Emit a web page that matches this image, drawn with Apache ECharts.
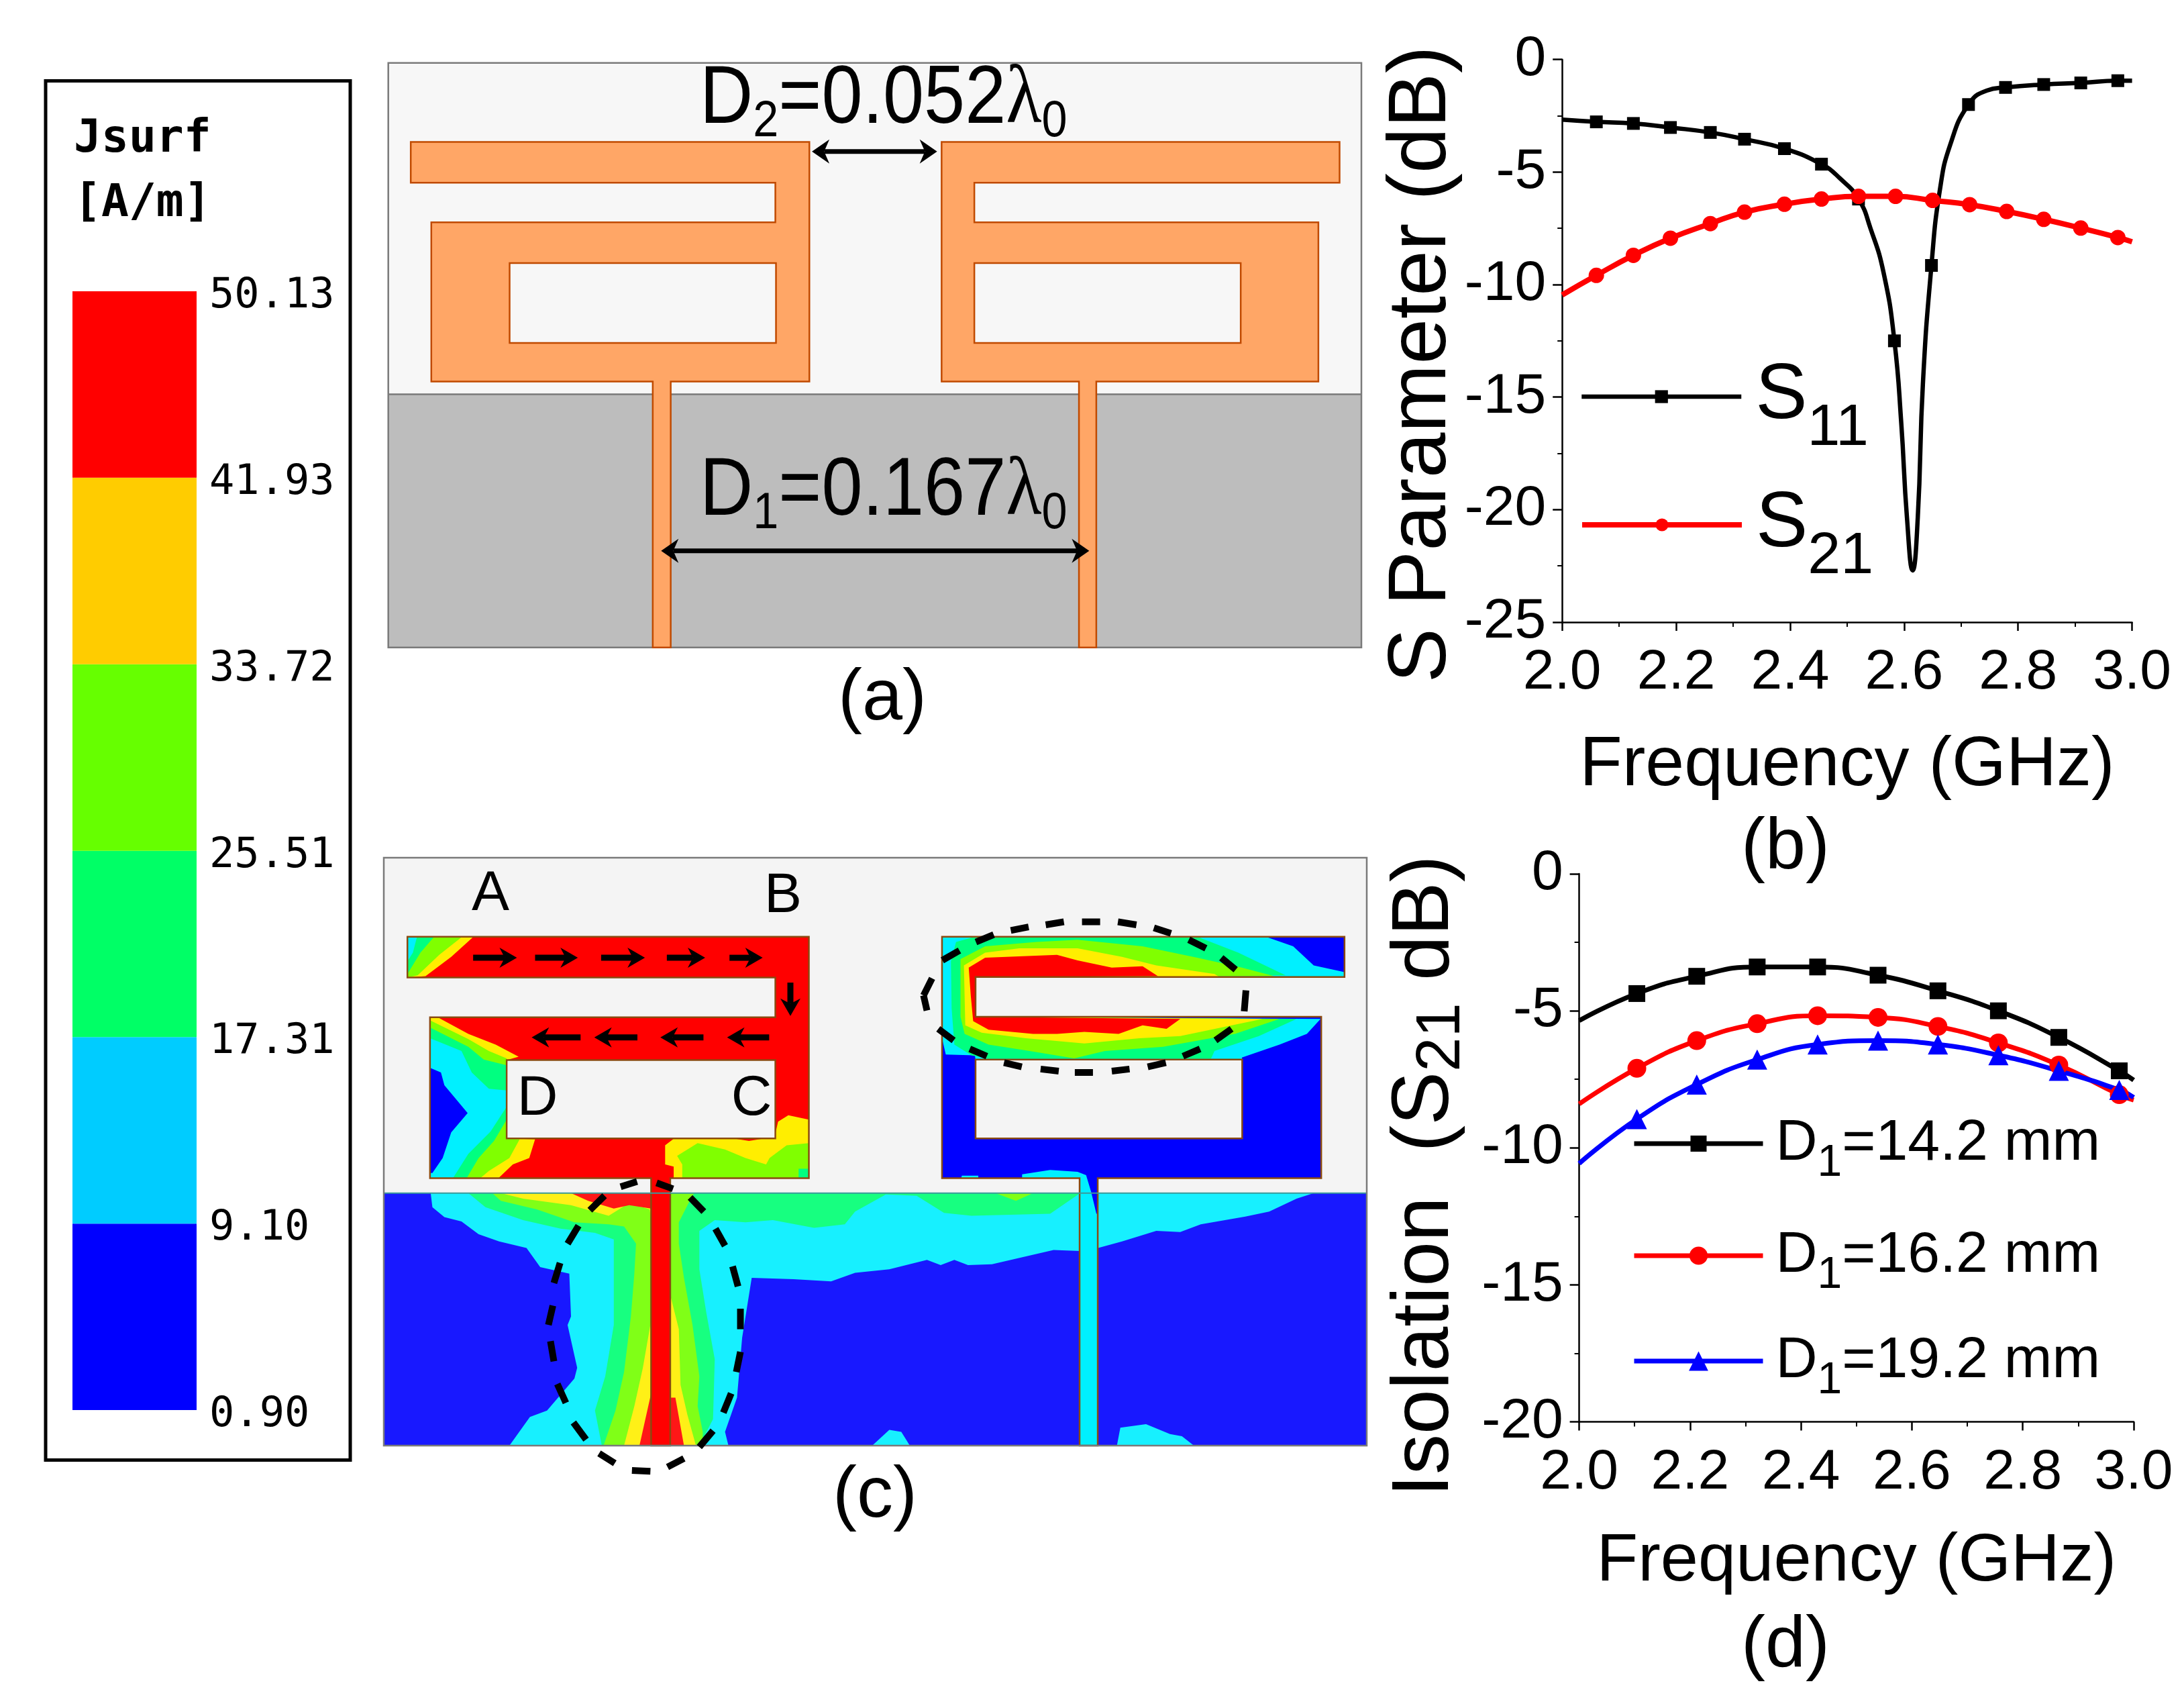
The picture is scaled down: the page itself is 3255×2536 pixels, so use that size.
<!DOCTYPE html>
<html><head><meta charset="utf-8">
<style>html,body{margin:0;padding:0;background:#fff}#c{width:3255px;height:2536px}</style>
<script src="https://cdn.jsdelivr.net/npm/echarts@6/dist/echarts.min.js"></script>
</head><body><div id="c"></div>
<script>
// ---------- panel (b) ----------
const s11Freq=[2.0,2.06,2.125,2.19,2.26,2.32,2.39,2.455,2.487,2.52,2.541,2.564,2.583,2.595,2.605,2.615,2.624,2.633,2.648,2.663,2.681,2.713,2.745,2.778,2.845,2.91,2.975,3.0];
const s11Db=[-2.67,-2.77,-2.84,-3.02,-3.24,-3.54,-3.96,-4.65,-5.27,-6.2,-7.5,-9.47,-12.5,-16.15,-20.35,-22.7,-20.35,-14.4,-9.15,-5.76,-3.78,-2.0,-1.38,-1.24,-1.11,-1.04,-0.94,-0.94];
const s11Markers=[1,2,3,4,5,6,7,9,12,18,21,23,24,25,26];
const s21Freq=[2.0,2.06,2.125,2.19,2.26,2.32,2.39,2.455,2.52,2.585,2.65,2.715,2.78,2.845,2.91,2.975,3.0];
const s21Db=[-10.46,-9.59,-8.7,-7.94,-7.29,-6.78,-6.43,-6.2,-6.08,-6.08,-6.26,-6.45,-6.75,-7.1,-7.49,-7.91,-8.1];
// ---------- panel (d) ----------
const isoFreq=[2.0,2.104,2.212,2.321,2.43,2.539,2.647,2.756,2.865,2.974,3.0];
const iso142=[-5.36,-4.37,-3.74,-3.40,-3.40,-3.70,-4.27,-5.0,-5.97,-7.19,-7.53];
const iso162=[-8.4,-7.1,-6.09,-5.47,-5.18,-5.24,-5.57,-6.17,-6.98,-8.06,-8.26];
const iso192=[-10.57,-8.95,-7.69,-6.78,-6.23,-6.09,-6.23,-6.62,-7.19,-7.89,-8.16];
// ---------- colour scale ----------
const jsurfLevels=[0.90,9.10,17.31,25.51,33.72,41.93,50.13];
const jsurfColors=['#0000ff','#00ccff','#00ff66','#66ff00','#ffcc00','#ff0000'];

// ---------- panel (a) geometry, in the panel's own units ----------
const ORANGE='#ffa666',EDGE_A='#c04a00';
const aSky=[[30,50],[1546,50],[1546,780],[30,780]];
const aGround=[[30,780],[1546,780],[1546,1338],[30,1338]];
const aLeft=[[65,224],[686,224],[686,752],[470,752],[470,1338],[442,1338],[442,752],[97,752],[97,401],[633,401],[633,314],[65,314]];
const aLeftHole=[[219,491],[634,491],[634,667],[219,667]];
const aRight=[[892,224],[1512,224],[1512,314],[943,314],[943,401],[1479,401],[1479,752],[1133,752],[1133,1338],[1106,1338],[1106,752],[892,752]];
const aRightHole=[[943,491],[1358,491],[1358,667],[943,667]];
const aArrows=[[690,245,885,245],[455,1125,1122,1125]];

// ---------- panel (c) geometry ----------
const R=p=>p.map(([x,y])=>[x+1470,y]);
const cSky=[[43,28],[2915,28],[2915,812],[43,812]];
const cGround=[[43,812],[2915,812],[2915,1402],[43,1402]];
const gCyan=[[180,812],[185,845],[220,868],[270,878],[320,908],[380,925],[460,940],[500,985],[585,1000],[590,1100],[580,1120],[608,1220],[600,1245],[520,1320],[470,1335],[410,1402],[1050,1402],[1040,1370],[1075,1290],[1090,1150],[1118,1010],[1240,1013],[1350,1018],[1420,998],[1520,990],[1630,968],[1670,980],[1710,968],[1750,980],[1820,978],[2000,945],[2076,947],[2130,940],[2200,925],[2300,900],[2370,903],[2430,885],[2560,867],[2630,855],[2710,825],[2760,812]];
const gCyanIsle1=[[1470,1402],[1520,1365],[1555,1370],[1580,1402]];
const gCyanIsle2=R([[715,1402],[725,1360],[800,1352],[870,1375],[905,1380],[940,1402]]);
const gGreen=[[290,812],[340,845],[450,875],[560,895],[660,905],[715,920],[715,1120],[690,1240],[660,1320],[680,1402],[965,1402],[1005,1340],[1010,1200],[985,1090],[965,990],[965,900],[1010,875],[1100,880],[1180,875],[1300,893],[1390,885],[1420,855],[1510,815],[1600,818],[1680,858],[1760,865],[1990,860],[2072,815],[2072,812]];
const gLime=[[360,812],[385,830],[490,850],[600,880],[700,885],[745,890],[780,930],[775,1000],[765,1100],[745,1230],[720,1320],[685,1402],[975,1402],[975,1370],[960,1310],[965,1240],[945,1120],[920,1010],[905,930],[905,880],[940,825],[950,812]];
const gLimeIsle=R([[360,812],[420,830],[470,812]]);
const gYellow=[[385,812],[450,825],[590,840],[700,865],[760,835],[820,850],[824,875],[824,1110],[800,1220],[775,1310],[745,1402],[955,1402],[930,1330],[910,1260],[905,1130],[880,1050],[880,812]];
const gRed=[[590,812],[640,830],[715,848],[760,840],[824,848],[824,812]];
const gRedLow=[[824,1280],[790,1402],[920,1402],[895,1290],[880,1290]];

const cLeft=[[112,213],[1285,213],[1285,777],[880,777],[880,1402],[824,1402],[824,777],[178,777],[178,401],[1187,401],[1187,308],[112,308]];
const cLeftHole=[[402,501],[1187,501],[1187,684],[402,684]];
const lTipYellow=[[112,213],[305,213],[240,260],[165,305],[112,308]];
const lTipLime=[[112,213],[272,213],[205,255],[142,303],[112,308]];
const lTipGreen=[[112,213],[190,213],[150,250],[112,300]];
const lTipCyan=[[112,213],[140,213],[128,250],[112,270]];
const lCornerYellow=[[178,401],[205,403],[290,440],[370,465],[437,493],[402,501],[402,684],[485,686],[468,730],[420,745],[378,777],[178,777]];
const lCornerLime=[[178,408],[290,452],[350,480],[402,497],[402,684],[440,686],[410,730],[350,760],[325,777],[178,777]];
const lCornerGreen=[[178,425],[290,470],[335,500],[402,513],[402,640],[365,690],[320,730],[285,777],[178,777]];
const lCornerCyan=[[178,450],[270,480],[300,530],[350,568],[402,572],[402,610],[355,668],[290,720],[245,777],[178,777]];
const lCornerBlue=[[180,520],[210,530],[220,560],[288,625],[240,670],[215,730],[185,765],[180,765]];
const lBlockYellow=[[1285,640],[1225,630],[1195,645],[1185,680],[1110,690],[1070,685],[890,685],[865,700],[865,745],[890,750],[890,777],[1285,777]];
const lBlockLime=[[1285,695],[1220,700],[1170,730],[1160,745],[1100,730],[1040,710],[960,695],[900,725],[915,745],[915,777],[1285,777]];
const lBlockGreen=[[1255,755],[1285,755],[1285,777],[1255,777]];

const cRight=R([[204,213],[1380,213],[1380,307],[302,307],[302,400],[1312,400],[1312,777],[659,777],[659,1402],[606,1402],[606,777],[204,777]]);
const cRightHole=R([[302,500],[1081,500],[1081,684],[302,684]]);
const rSlot=R([[302,307],[1380,307],[1380,400],[302,400]]);
const lSlot=[[112,308],[1187,308],[1187,401],[112,401]];
const rFeed=R([[606,770],[625,770],[640,810],[655,860],[659,860],[659,1402],[606,1402]]);
const rStub1=R([[260,777],[262,771],[310,771],[310,777]]);
const rStub2=R([[438,777],[438,768],[520,758],[600,762],[625,770],[606,777]]);
const rCyan=R([[204,213],[1150,213],[1230,235],[1290,280],[1378,295],[1380,307],[302,307],[302,400],[1310,405],[1270,440],[1190,465],[1080,495],[1081,500],[302,500],[300,490],[215,488],[204,450]]);
const rGreen=R([[230,270],[245,225],[300,213],[950,213],[1070,250],[1208,303],[302,307],[302,400],[1240,405],[1130,445],[1000,480],[990,498],[340,498],[290,490],[240,465],[232,380]]);
const rLime=R([[258,265],[330,235],[480,225],[600,220],[790,235],[950,262],[1080,285],[1175,305],[302,307],[302,400],[1190,405],[1060,440],[850,470],[680,480],[590,497],[460,480],[340,465],[270,440],[258,400]]);
const rYellow=R([[268,280],[330,250],[430,240],[600,240],[730,260],[830,280],[1000,300],[1015,307],[302,307],[302,400],[1140,405],[1020,425],[900,445],[780,450],[620,462],[450,450],[320,437],[272,420]]);
const rRed=R([[282,285],[330,262],[540,255],[600,268],[700,285],[790,282],[835,305],[302,307],[302,400],[900,405],[860,428],[790,420],[720,440],[620,435],[540,440],[470,440],[340,430],[295,410],[288,350]]);

const cArrows=[[304,262,432,262],[485,262,610,262],[678,262,806,262],[870,262,982,262],[1053,262,1150,262],[1231,320,1231,398],[618,448,475,448],[784,448,658,448],[977,448,851,448],[1169,448,1046,448]];
const leftDashes=[[735,797,783,785],[645,852,688,818],[580,930,612,888],[540,1022,558,975],[524,1120,537,1075],[530,1158,540,1205],[550,1258,575,1302],[597,1348,634,1388],[672,1420,718,1443],[768,1460,822,1462],[872,1452,920,1432],[965,1405,1005,1367],[1035,1325,1058,1280],[1073,1230,1085,1183],[1085,1130,1085,1082],[1078,1030,1062,983],[1040,935,1012,895],[978,855,938,822],[888,802,840,788]];
const rightDashes=[[1087,387,1092,338],[1062,290,1020,262],[975,240,925,220],[873,205,823,192],[772,185,718,178],[666,178,613,178],[560,178,507,185],[457,190,405,198],[355,208,303,225],[255,245,205,268],[175,310,150,350],[150,350,160,385],[193,428,238,455],[285,475,335,492],[385,507,437,517],[492,522,545,527],[592,530,645,530],[700,527,752,522],[805,517,858,507],[908,492,958,475],[1003,455,1050,428]].map(d=>[d[0]+1470,d[1],d[2]+1470,d[3]]);

const SKY='#f4f4f4',EDGE='#8a4a10';
const aShapes=[
 {pts:aSky,fill:'#f7f7f7'},{pts:aGround,fill:'#bdbdbd'},
 {pts:[[30,50],[1546,50],[1546,1338],[30,1338]],fill:'none',stroke:'#7a7a7a',lw:2.5},
 {pts:[[30,780],[1546,780]],fill:'none',stroke:'#7a7a7a',lw:2.5},
 {pts:aLeft,fill:ORANGE,stroke:EDGE_A,lw:2.5},{pts:aLeftHole,fill:'#f7f7f7',stroke:EDGE_A,lw:2.5},
 {pts:aRight,fill:ORANGE,stroke:EDGE_A,lw:2.5},{pts:aRightHole,fill:'#f7f7f7',stroke:EDGE_A,lw:2.5}
];
const cShapes=[
 {pts:cSky,fill:SKY},{pts:cGround,fill:'#1818ff'},
 {pts:gCyan,fill:'#17f0ff'},{pts:gCyanIsle1,fill:'#17f0ff'},{pts:gCyanIsle2,fill:'#17f0ff'},
 {pts:gGreen,fill:'#17ff80'},{pts:gLime,fill:'#80ff17'},{pts:gLimeIsle,fill:'#80ff17'},
 {pts:gYellow,fill:'#fff017'},{pts:gRed,fill:'#ff1717'},{pts:gRedLow,fill:'#ff1717'},
 {pts:cLeft,fill:'#ff0000'},
 {pts:lTipYellow,fill:'#ffee00'},{pts:lTipLime,fill:'#80ff00'},{pts:lTipGreen,fill:'#00ff80'},{pts:lTipCyan,fill:'#00f0ff'},
 {pts:lCornerYellow,fill:'#ffee00'},{pts:lCornerLime,fill:'#80ff00'},{pts:lCornerGreen,fill:'#00ff80'},{pts:lCornerCyan,fill:'#00f0ff'},{pts:lCornerBlue,fill:'#0000ff'},
 {pts:lBlockYellow,fill:'#ffee00'},{pts:lBlockLime,fill:'#80ff00'},{pts:lBlockGreen,fill:'#00ff80'},
 {pts:lSlot,fill:SKY},{pts:cLeftHole,fill:SKY,stroke:EDGE,lw:2.5},
 {pts:cRight,fill:'#0000ff'},{pts:rFeed,fill:'#00f0ff'},{pts:rStub1,fill:'#00f0ff'},{pts:rStub2,fill:'#00f0ff'},
 {pts:rCyan,fill:'#00f0ff'},{pts:rGreen,fill:'#00ff80'},{pts:rLime,fill:'#80ff00'},{pts:rYellow,fill:'#ffee00'},{pts:rRed,fill:'#ff0000'},
 {pts:rSlot,fill:SKY},{pts:cRightHole,fill:SKY,stroke:EDGE,lw:2.5},
 {pts:cLeft,fill:'none',stroke:EDGE,lw:2.5},{pts:cRight,fill:'none',stroke:EDGE,lw:2.5},
 {pts:[[43,812],[2915,812]],fill:'none',stroke:'#3a9a9a',lw:2},
 {pts:[[43,28],[2915,28],[2915,1402],[43,1402]],fill:'none',stroke:'#7a7a7a',lw:2.5}
];

// ---------- drawing helpers ----------
const FONT='Liberation Sans';
function shapeSeries(gi,shapes){return{type:'custom',xAxisIndex:gi,yAxisIndex:gi,clip:false,silent:true,z:1,
 data:shapes.map(s=>s.pts[0]),
 renderItem:(p,api)=>{const s=shapes[p.dataIndex],pts=s.pts.map(q=>api.coord(q));
  const style={fill:s.fill==='none'?null:s.fill,stroke:s.stroke||null,lineWidth:s.lw||0};
  return pts.length===2?{type:'line',shape:{x1:pts[0][0],y1:pts[0][1],x2:pts[1][0],y2:pts[1][1]},style:{stroke:s.stroke,lineWidth:s.lw}}:{type:'polygon',shape:{points:pts},style};}};}
function arrowSeries(gi,rows,both,width,hl,hw){return{type:'custom',xAxisIndex:gi,yAxisIndex:gi,clip:false,silent:true,z:3,
 data:rows,
 renderItem:(p,api)=>{const a=api.coord([api.value(0),api.value(1)]),b=api.coord([api.value(2),api.value(3)]);
  const L=Math.hypot(b[0]-a[0],b[1]-a[1]),ux=(b[0]-a[0])/L,uy=(b[1]-a[1])/L,nx=-uy,ny=ux;
  const head=(t,dx,dy)=>({type:'polygon',shape:{points:[t,[t[0]-dx*hl+nx*hw,t[1]-dy*hl+ny*hw],[t[0]-dx*hl*0.7,t[1]-dy*hl*0.7],[t[0]-dx*hl-nx*hw,t[1]-dy*hl-ny*hw]]},style:{fill:'#000'}});
  const kids=[{type:'line',shape:{x1:a[0]+(both?ux*hl*0.7:0),y1:a[1]+(both?uy*hl*0.7:0),x2:b[0]-ux*hl*0.7,y2:b[1]-uy*hl*0.7},style:{stroke:'#000',lineWidth:width}},head(b,ux,uy)];
  if(both)kids.push(head(a,-ux,-uy));
  return{type:'group',children:kids};}};}
function dashSeries(gi,rows){return{type:'custom',xAxisIndex:gi,yAxisIndex:gi,clip:false,silent:true,z:4,
 data:rows,
 renderItem:(p,api)=>{const a=api.coord([api.value(0),api.value(1)]),b=api.coord([api.value(2),api.value(3)]);
  return{type:'line',shape:{x1:a[0],y1:a[1],x2:b[0],y2:b[1]},style:{stroke:'#000',lineWidth:10}};}};}

function lineSeries(name,gi,xs,ys,color,width,symbol,size,markerIdx){
 return{name,type:'line',xAxisIndex:gi,yAxisIndex:gi,symbol,symbolSize:size,showSymbol:true,showAllSymbol:true,smooth:0.5,z:5,
  lineStyle:{color,width},itemStyle:{color},
  data:xs.map((x,i)=>markerIdx.includes(i)?{value:[x,ys[i]]}:{value:[x,ys[i]],symbol:'none'})};}
const inner=isoFreq.map((_,i)=>i).slice(1,-1);

function plotX(gi,gap,size){return{gridIndex:gi,type:'value',min:2,max:3,interval:0.2,position:'bottom',
 name:'Frequency (GHz)',nameLocation:'middle',nameGap:gap,nameMoveOverlap:false,nameTextStyle:{fontFamily:FONT,fontSize:size,color:'#000'},
 axisLine:{show:true,onZero:false,lineStyle:{color:'#000',width:2.5}},axisTick:{show:true,inside:false,length:13,lineStyle:{color:'#000',width:2.5}},
 minorTick:{show:true,splitNumber:2,length:7,lineStyle:{color:'#000',width:2}},splitLine:{show:false},
 axisLabel:{fontFamily:FONT,fontSize:84,color:'#000',margin:34,formatter:v=>v.toFixed(1)}};}
function plotY(gi,min,name,gap,pad,size,rich){return{gridIndex:gi,type:'value',min,max:0,interval:5,position:'left',
 name,nameLocation:'middle',nameGap:gap,nameRotate:90,nameMoveOverlap:false,
 nameTextStyle:{fontFamily:FONT,fontSize:size,color:'#000',padding:pad,rich},
 axisLine:{show:true,onZero:false,lineStyle:{color:'#000',width:2.5}},axisTick:{show:true,length:14,lineStyle:{color:'#000',width:2.5}},
 minorTick:{show:true,splitNumber:2,length:7,lineStyle:{color:'#000',width:2}},splitLine:{show:false},
 axisLabel:{fontFamily:FONT,fontSize:84,color:'#000',margin:24}};}
const hiddenX=(gi,min,max)=>({gridIndex:gi,type:'value',min,max,show:false,splitLine:{show:false}});
const hiddenY=(gi,min,max)=>({gridIndex:gi,type:'value',min,max,inverse:true,show:false,splitLine:{show:false}});

const subRich=(main,sub,drop,left)=>({m:{fontFamily:FONT,fontSize:main,color:'#000',padding:[0,0,0,left||0]},m0:{fontFamily:FONT,fontSize:main,color:'#000'},s:{fontFamily:FONT,fontSize:sub,color:'#000',padding:[drop,0,0,0]}});
function legendFor(name,left,top,iw,ih,lw,rich,label){return{show:true,data:[name],left,top,orient:'horizontal',itemWidth:iw,itemHeight:ih,padding:0,selectedMode:false,lineStyle:{width:lw},
 formatter:()=>label,textStyle:{rich,color:'#000',fontFamily:FONT}};}

function label(text,x,y,size,extra){return Object.assign({type:'text',x,y,silent:true,z:20,style:{text,fontFamily:FONT,fontSize:size,fill:'#000',textAlign:'center',textVerticalAlign:'middle'}},extra||{});}
const dimRich={m:{fontFamily:FONT,fontSize:122,color:'#000'},s:{fontFamily:FONT,fontSize:76,color:'#000',padding:[66,0,0,0]},l:{fontFamily:'Liberation Serif',fontSize:122,color:'#000'}};
function dimText(t,x,y){return{type:'text',x,y,scaleX:0.9,z:20,silent:true,style:{text:t,rich:dimRich,textAlign:'left',textVerticalAlign:'middle',fontFamily:FONT}};}

const option={
 animation:false,backgroundColor:'#fff',
 grid:[
  {left:2328.2,top:88.7,width:849.4,height:838.3},
  {left:2353.6,top:1302,width:826.4,height:816.5},
  {left:578.7,top:93.8,width:1450.3,height:870.9},
  {left:572,top:1277.9,width:1465,height:876.1},
  {left:108,top:434,width:185,height:1667}
 ],
 xAxis:[plotX(0,162,104),plotX(1,158,101),hiddenX(2,30,1546),hiddenX(3,43,2915),hiddenX(4,0,1)],
 yAxis:[
  plotY(0,-25,'S Parameter (dB)',147,[0,70,0,0],122),
  plotY(1,-20,'{a|Isolation  (S}{b|21}{a| dB)}',158,[0,84,0,0],118,{a:{fontFamily:FONT,fontSize:120,color:'#000'},b:{fontFamily:FONT,fontSize:92,color:'#000',padding:[50,0,0,0]}}),
  hiddenY(2,50,1338),hiddenY(3,28,1402),
  {gridIndex:4,type:'value',position:'right',min:0.90,max:50.13,axisLine:{show:false},axisTick:{show:false},splitLine:{show:false},
   axisLabel:{show:true,customValues:jsurfLevels,formatter:v=>v.toFixed(2),fontFamily:'DejaVu Sans Mono',fontSize:62,color:'#000',align:'left',margin:19,verticalAlign:'top',lineHeight:16}}
 ],
 legend:[
  legendFor('S11',2354,533,238,24,6.5,subRich(116,88,96,16),'{m|S}{s|11}'),
  legendFor('S21',2354,724,238,24,8,subRich(116,88,96,16),'{m|S}{s|21}'),
  legendFor('D1=14.2 mm',2432,1661,192,30,7,subRich(86,66,60,14),'{m|D}{s|1}{m0|=14.2 mm}'),
  legendFor('D1=16.2 mm',2432,1828,192,34,7,subRich(86,66,60,14),'{m|D}{s|1}{m0|=16.2 mm}'),
  legendFor('D1=19.2 mm',2432,1985,192,36,7,subRich(86,66,60,14),'{m|D}{s|1}{m0|=19.2 mm}')
 ],
 series:[
  shapeSeries(2,aShapes),arrowSeries(2,aArrows,true,7,26,18),
  shapeSeries(3,cShapes),arrowSeries(3,cArrows,false,9,26,15),dashSeries(3,leftDashes),dashSeries(3,rightDashes),
  {type:'custom',xAxisIndex:4,yAxisIndex:4,silent:true,clip:false,z:2,
   data:jsurfColors.map((c,i)=>[0,jsurfLevels[i],1,jsurfLevels[i+1]]),
   renderItem:(p,api)=>{const a=api.coord([api.value(0),api.value(3)]),b=api.coord([api.value(2),api.value(1)]);
    return{type:'rect',shape:{x:a[0],y:a[1],width:b[0]-a[0],height:b[1]-a[1]},style:{fill:jsurfColors[p.dataIndex]}};}},
  lineSeries('S11',0,s11Freq,s11Db,'#000',6.5,'rect',19,s11Markers),
  lineSeries('S21',0,s21Freq,s21Db,'#ff0000',8,'circle',23,s21Freq.map((_,i)=>i).slice(1,-1)),
  lineSeries('D1=14.2 mm',1,isoFreq,iso142,'#000',7,'rect',25,inner),
  lineSeries('D1=16.2 mm',1,isoFreq,iso162,'#ff0000',7,'circle',28,inner),
  lineSeries('D1=19.2 mm',1,isoFreq,iso192,'#0000ff',7,'triangle',30,inner)
 ],
 graphic:{elements:[
  {type:'rect',shape:{x:68,y:120.6,width:454,height:2055},style:{fill:null,stroke:'#000',lineWidth:5},silent:true,z:20},
  {type:'text',x:110,y:208,z:20,silent:true,style:{text:'Jsurf',fontFamily:'DejaVu Sans Mono',fontWeight:'bold',fontSize:68,fill:'#000',textVerticalAlign:'middle'}},
  {type:'text',x:110,y:304,z:20,silent:true,style:{text:'[A/m]',fontFamily:'DejaVu Sans Mono',fontWeight:'bold',fontSize:68,fill:'#000',textVerticalAlign:'middle'}},
  label('(a)',1315,1042,108),label('(b)',2661,1264,108),label('(c)',1304,2230,108),label('(d)',2661,2453,108),
  label('A',731,1333,84),label('B',1167,1336,84),label('D',801,1638,84),label('C',1120,1638,84),
  dimText('{m|D}{s|2}{m|=0.052}{l|λ}{s|0}',1043,149),
  dimText('{m|D}{s|1}{m|=0.167}{l|λ}{s|0}',1043,733)
 ]}
};
const chart=echarts.init(document.getElementById('c'),null,{renderer:'canvas',width:3255,height:2536});
chart.setOption(option);
</script></body></html>
